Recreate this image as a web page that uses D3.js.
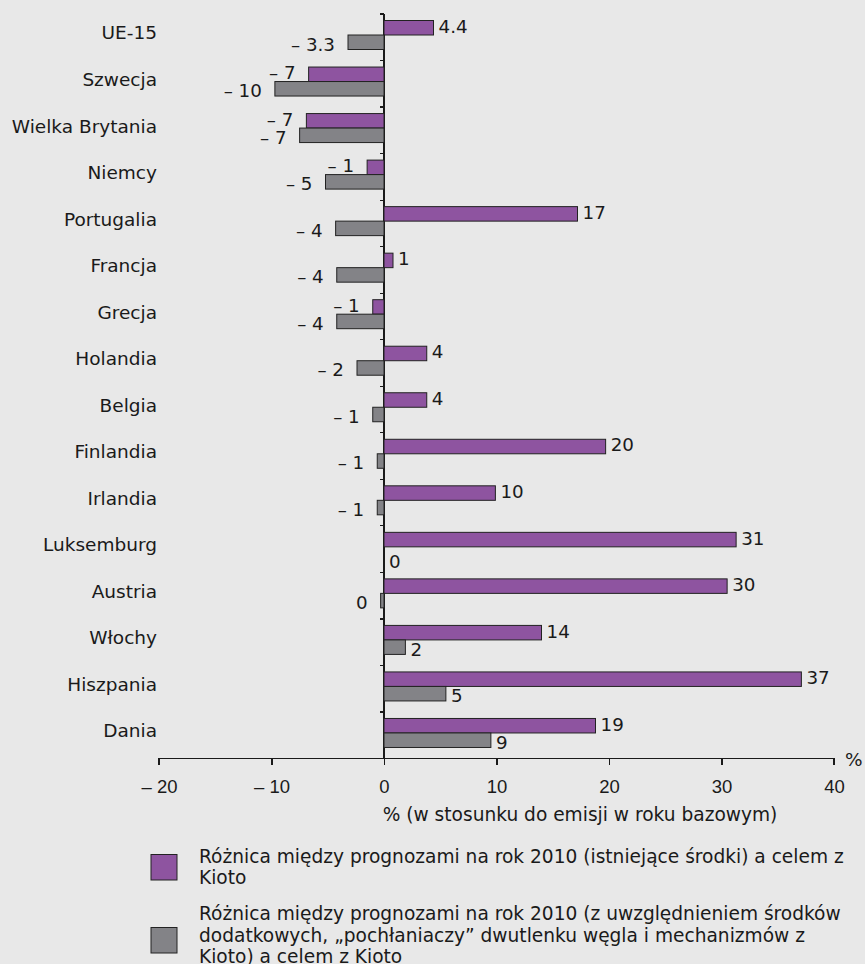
<!DOCTYPE html>
<meta charset="utf-8">
<style>

body {
  margin: 0;
  background: #e8e8e8;
}

svg {
  display: block;
  font-family: "DejaVu Sans", Verdana, sans-serif;
  fill: #1a1a1a;
}

.cat {
  font-size: 18.5px;
  text-anchor: end;
}

.val {
  font-size: 18.3px;
}

.axis path,
.axis line {
  stroke: #1a1a1a;
  stroke-width: 1.2px;
  shape-rendering: crispEdges;
}

.axis text {
  font-size: 18.5px;
  fill: #1a1a1a;
}

.legend text {
  font-size: 18.6px;
}

</style>
<svg width="865" height="964"></svg>
<script src="https://d3js.org/d3.v7.min.js"></script>
<script>

var categories = ["UE-15", "Szwecja", "Wielka Brytania", "Niemcy", "Portugalia", "Francja", "Grecja",
  "Holandia", "Belgia", "Finlandia", "Irlandia", "Luksemburg", "Austria", "Włochy", "Hiszpania", "Dania"];

// roznica: istniejace srodki
var existing = [4.4, -6.7, -6.9, -1.5, 17.2, 0.8, -1.0, 3.8, 3.8, 19.7, 9.9, 31.3, 30.5, 14.0, 37.1, 18.8];
var existingLabels = ["4.4", "– 7", "– 7", "– 1", "17", "1", "– 1", "4", "4", "20", "10", "31", "30", "14", "37", "19"];

// roznica: srodki dodatkowe, pochlaniacze, mechanizmy z Kioto
var additional = [-3.2, -9.7, -7.5, -5.2, -4.3, -4.2, -4.2, -2.4, -1.0, -0.6, -0.6, 0, -0.3, 1.9, 5.5, 9.5];
var additionalLabels = ["– 3.3", "– 10", "– 7", "– 5", "– 4", "– 4", "– 4", "– 2", "– 1", "– 1", "– 1", "0", "0", "2", "5", "9"];

var xTicks = [-20, -10, 0, 10, 20, 30, 40];

var legendLines = [
  ["Różnica między prognozami na rok 2010 (istniejące środki) a celem z", "Kioto"],
  ["Różnica między prognozami na rok 2010 (z uwzględnieniem środków",
   "dodatkowych, „pochłaniaczy” dwutlenku węgla i mechanizmów z",
   "Kioto) a celem z Kioto"]
];

var colors = ["#8e54a0", "#838387"];

var svg = d3.select("svg");

var x = d3.scaleLinear()
    .domain([-20, 40])
    .range([159, 834]);

var y = d3.scaleBand()
    .domain(categories)
    .range([14, 758.5]);

var barH = 14.5,
    barOff = 6.5;

var rows = categories.map(function(c, i) {
  return {name: c, series: [
    {k: 0, v: existing[i], label: existingLabels[i]},
    {k: 1, v: additional[i], label: additionalLabels[i]}
  ]};
});

// y axis line and ticks at band edges
var yAxis = svg.append("g").attr("class", "axis");
yAxis.append("line")
    .attr("x1", x(0)).attr("x2", x(0))
    .attr("y1", y.range()[0]).attr("y2", y.range()[1]);
yAxis.selectAll(".yt")
    .data(categories)
  .enter().append("line")
    .attr("class", "yt")
    .attr("x1", x(0) - 4).attr("x2", x(0))
    .attr("y1", function(d) { return y(d); })
    .attr("y2", function(d) { return y(d); });

// x axis
var xAxis = svg.append("g")
    .attr("class", "axis")
    .attr("transform", "translate(0," + y.range()[1] + ")")
    .call(d3.axisBottom(x)
      .tickValues(xTicks)
      .tickSizeInner(6)
      .tickSizeOuter(6)
      .tickPadding(15)
      .tickFormat(function(d) { return d < 0 ? "– " + Math.abs(d) : d; }));
xAxis.select(".domain").attr("d", "M" + x(-20) + ",6V0H" + x(40) + "V6");

svg.append("text")
    .attr("x", 845)
    .attr("y", y.range()[1] + 7)
    .style("font-size", "18.5px")
    .text("%");

svg.append("text")
    .attr("x", 580)
    .attr("y", 821)
    .attr("text-anchor", "middle")
    .style("font-size", "18.6px")
    .text("% (w stosunku do emisji w roku bazowym)");

// category labels
svg.selectAll(".cat")
    .data(categories)
  .enter().append("text")
    .attr("class", "cat")
    .attr("x", 157)
    .attr("y", function(d) { return y(d) + 19; })
    .attr("dy", "0.35em")
    .text(function(d) { return d; });

var group = svg.selectAll(".row")
    .data(rows)
  .enter().append("g")
    .attr("class", "row")
    .attr("transform", function(d) { return "translate(0," + (y(d.name) + barOff) + ")"; });

group.selectAll("rect")
    .data(function(d) { return d.series; })
  .enter().append("rect")
    .attr("x", function(d) { return x(Math.min(0, d.v)); })
    .attr("y", function(d) { return d.k * barH; })
    .attr("width", function(d) { return Math.abs(x(d.v) - x(0)); })
    .attr("height", barH)
    .style("fill", function(d) { return colors[d.k]; })
    .style("stroke", function(d) { return d.v === 0 ? "none" : "#222"; })
    .style("stroke-width", "1px");

group.selectAll(".val")
    .data(function(d) { return d.series; })
  .enter().append("text")
    .attr("class", "val")
    .attr("x", function(d) { return d.v < 0 ? x(d.v) - 13 : x(d.v) + 5; })
    .attr("y", function(d) {
      var off = d.v === 0 ? 8 : (d.k === 0 ? -1.5 : 2);
      return d.k * barH + barH / 2 + off;
    })
    .attr("dy", "0.35em")
    .attr("text-anchor", function(d) { return d.v < 0 ? "end" : "start"; })
    .text(function(d) { return d.label; });

// legend
var legendY = [854, 927];
var legend = svg.selectAll(".legend")
    .data(legendLines)
  .enter().append("g")
    .attr("class", "legend")
    .attr("transform", function(d, i) { return "translate(0," + legendY[i] + ")"; });

legend.append("rect")
    .attr("x", 151)
    .attr("y", 0.5)
    .attr("width", 26)
    .attr("height", 25.5)
    .style("fill", function(d, i) { return colors[i]; })
    .style("stroke", "#222");

legend.append("text")
    .attr("x", 199)
    .attr("y", function(d) { return d.length > 2 ? -13.5 : 2; })
    .selectAll("tspan")
    .data(function(d) { return d; })
  .enter().append("tspan")
    .attr("x", 199)
    .attr("dy", function(d, i) { return i === 0 ? "0.35em" : "21.5px"; })
    .text(function(d) { return d; });

</script>
